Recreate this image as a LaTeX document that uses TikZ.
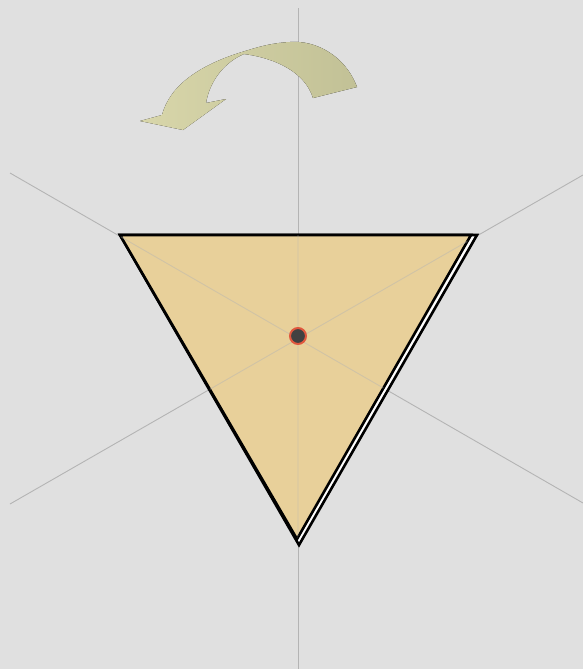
\documentclass[tikz,border=0pt]{standalone}
\usetikzlibrary{calc}
\definecolor{PlateGray}{HTML}{E0E0E0}
\definecolor{AxisGray}{HTML}{B4B4B4}
\definecolor{TileSand}{HTML}{E8D09A}
\definecolor{TurnLeft}{HTML}{D8D6AA}
\definecolor{TurnRight}{HTML}{C2C196}
\definecolor{PivotRed}{HTML}{E0583E}
\definecolor{PivotInk}{HTML}{414141}
\tikzset{axis/.style={draw=AxisGray,line width=0.45pt},
  tile/.style={draw=black,line width=1.3pt,line join=miter}}

\begin{document}
\begin{tikzpicture}[x=0.5pt,y=-0.5pt,
  pivot/.style={circle,fill=PivotInk,draw=PivotRed,line width=1pt,minimum size=8pt,inner sep=0pt},
  turn/.style={left color=TurnLeft,right color=TurnRight,draw=none}]
% plate
\fill[PlateGray] (0,0) rectangle (583,669);
\useasboundingbox (0,0) rectangle (583,669);
% symmetry axes
\coordinate (c) at (298,336);
\coordinate (vtop) at (298,8);
\coordinate (vbot) at (298,669);
\coordinate (ul) at (10,173);
\coordinate (lr) at (583,503);
\coordinate (ur) at (583,175);
\coordinate (ll) at (10,504);
\draw[axis] (vtop)--(vbot);
\draw[axis] (ul)--(lr);
\draw[axis] (ur)--(ll);
% rotated copy and tile
\coordinate (a) at (120,235);
\coordinate (b) at (477,235);
\coordinate (d) at (299,545);
\coordinate (b0) at (471,235);
\coordinate (d0) at (297,539);
\filldraw[tile,fill=white] (a)--(b)--(d)--cycle;
\filldraw[tile,fill=TileSand] (a)--(b0)--(d0)--cycle;
\begin{scope}
\clip (a)--(b0)--(d0)--cycle;
\draw[axis,draw opacity=0.45] (vtop)--(vbot) (ul)--(lr) (ur)--(ll);
\end{scope}
% turn arrow
\fill[turn] (357,87) .. controls (345,55) and (315,40) .. (290,42)
  .. controls (270,43) and (255,48) .. (242,52)
  .. controls (200,65) and (170,85) .. (162,115)
  -- (140,121) -- (183,130) -- (226,99) -- (206,103)
  .. controls (210,80) and (225,62) .. (244,54)
  .. controls (275,58) and (305,72) .. (313,98) -- cycle;
% pivot
\node[pivot] (p) at (c) {};
\end{tikzpicture}
\end{document}
